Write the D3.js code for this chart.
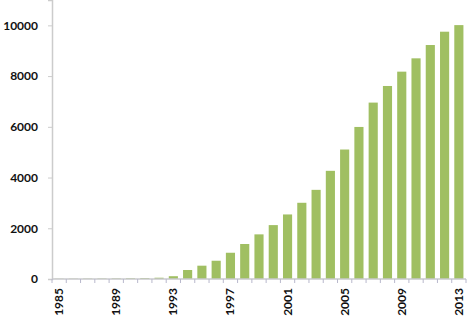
<!DOCTYPE html>
<html>
<head>
<meta charset="utf-8">
<script src="https://cdn.jsdelivr.net/npm/d3@7"></script>
<style>
  body { margin: 0; background: #fff; }
  text { font-family: Lato, "Liberation Sans", sans-serif; font-weight: bold; fill: #111; }
</style>
</head>
<body>
<div id="chart"></div>
<script>
//Chart data
const years = d3.range(1985, 2014);
const counts = [10, 12, 15, 18, 22, 28, 35, 50, 110, 355, 525, 720, 1035, 1380, 1760,
  2125, 2545, 3005, 3515, 4265, 5105, 5995, 6955, 7610, 8175, 8700, 9225, 9750, 10010];
const yTicks = [0, 2000, 4000, 6000, 8000, 10000];
const yearLabels = [1985, 1989, 1993, 1997, 2001, 2005, 2009, 2013];

const data = years.map((y, i) => ({ year: y, count: counts[i] }));

const WIDTH = 470;
const HEIGHT = 321;
const LEFT = 52;
const RIGHT = 466;
const BASE = 279;

let svg = d3.select('#chart')
.append('svg')
.attr('width', WIDTH)
.attr('height', HEIGHT);

//Scales
const x = d3.scaleBand().domain(years).range([LEFT, RIGHT]).paddingInner(0.36).paddingOuter(0.18);
const y = d3.scaleLinear().domain([0, 11000]).range([BASE, 0]);

//Bars
svg.append('g')
.selectAll('rect')
.data(data)
.enter()
.append('rect')
.attr('x', d => x(d.year))
.attr('y', d => y(d.count))
.attr('width', x.bandwidth())
.attr('height', d => BASE - y(d.count))
.style('fill', '#a0bf62');

//Y axis
let yAxis = svg.append('g')
.attr('transform', `translate(${LEFT},0)`)
.call(d3.axisLeft(y).tickValues(yTicks).tickSize(4).tickPadding(10).tickFormat(d3.format('d')));
yAxis.select('.domain').attr('stroke', '#cccccc').attr('stroke-width', 1.5);
yAxis.selectAll('.tick line').attr('stroke', '#cccccc');
yAxis.selectAll('.tick text').style('font-size', '12px');

//X axis line plus ticks at category boundaries
let xAxis = svg.append('g');
xAxis.append('line')
.attr('x1', LEFT).attr('x2', RIGHT)
.attr('y1', BASE).attr('y2', BASE)
.attr('stroke', '#c8c8cc').attr('stroke-width', 1.5);

const step = x.step();
const firstEdge = x(years[0]) - x.step() * x.paddingInner() / 2;
xAxis.selectAll('.edge')
.data(d3.range(years.length + 1))
.enter()
.append('line')
.attr('x1', i => firstEdge + i * step)
.attr('x2', i => firstEdge + i * step)
.attr('y1', BASE)
.attr('y2', BASE + 4)
.attr('stroke', '#b8b8cc');

//Year labels, rotated
xAxis.selectAll('.lbl')
.data(yearLabels)
.enter()
.append('text')
.attr('transform', d => `translate(${x(d) + x.bandwidth() / 2 + 4},${BASE + 9}) rotate(-90)`)
.attr('text-anchor', 'end')
.style('font-size', '12px')
.text(d => d);
</script>
</body>
</html>
